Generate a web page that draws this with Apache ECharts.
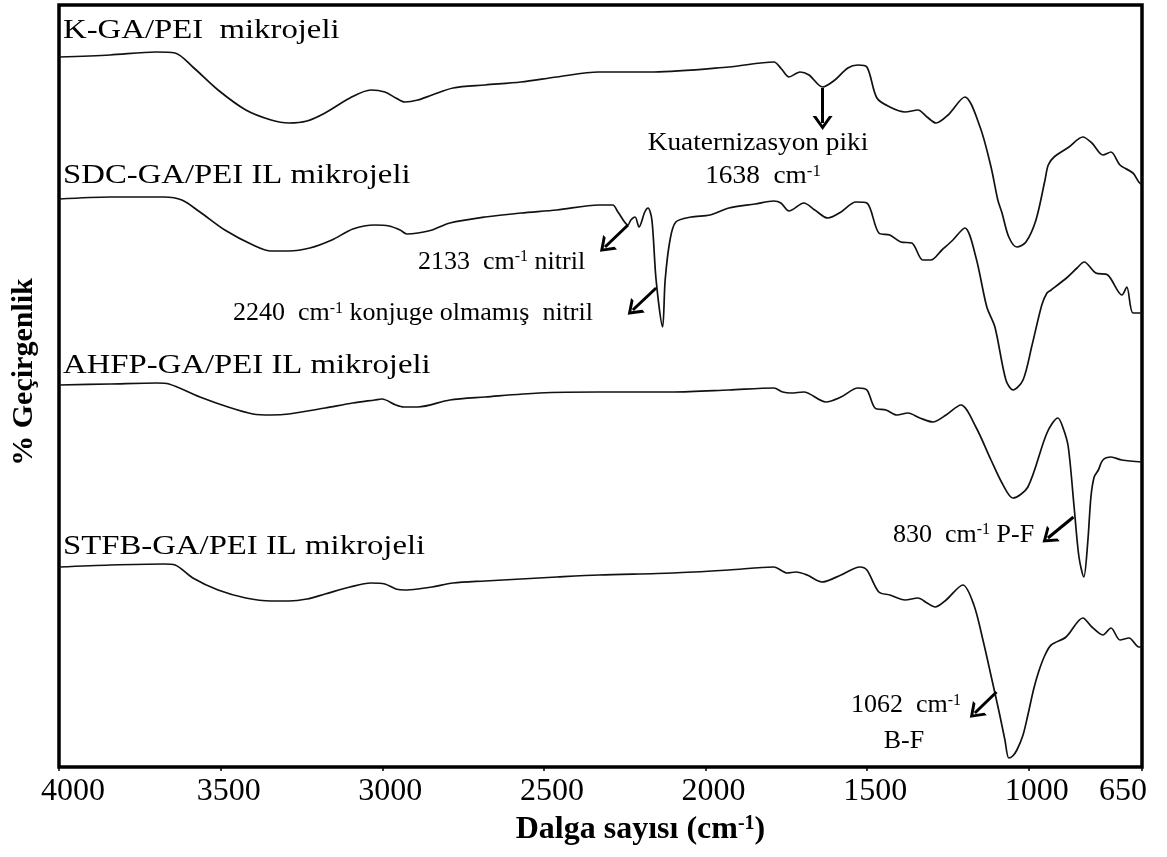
<!DOCTYPE html>
<html>
<head>
<meta charset="utf-8">
<script src="https://cdn.jsdelivr.net/npm/echarts@6.0.0/dist/echarts.min.js"></script>
<style>
  html, body { margin: 0; padding: 0; background: #fff; }
  #chart { width: 1167px; height: 857px; }
</style>
</head>
<body>
<div id="chart"></div>
<script>
// Wavenumber ticks (cm-1)
const tickValues = [4000, 3500, 3000, 2500, 2000, 1500, 1000, 650];

// FTIR spectra, [wavenumber, offset transmittance (a.u.)]
const kgaPei = [
  [4000,355],[3842,356],[3700,357.5],[3641,357],[3586,350],[3508,338.5],[3422,328.5],[3344,323.5],
  [3289,322],[3233,323],[3177,327],[3100,334.5],[3035,338.5],[2992,337.5],[2958,334.5],[2930,332.5],
  [2890,333.5],[2846,336],[2781,339.5],[2682,341],[2571,342.5],[2460,345],[2330,347.5],[2160,347.5],
  [1928,350],[1789,352.5],[1765,349],[1742,345],[1708,347.5],[1680,346],[1638,340],[1600,343.5],
  [1560,349.5],[1529,351],[1501,350],[1470,334.5],[1430,330],[1383,327.5],[1343,328.5],[1315,325],
  [1287,322],[1250,326],[1198,335],[1151,320],[1117,300],[1096,283.5],[1083,277],[1062,265],
  [1037,260],[1009,262.5],[978,273.5],[950,293.5],[940,301],[922,305],[876,310],[833,315],
  [805,312],[771,306],[746,307.5],[718,301],[678,297],[660,292.5],[650,291]
];

const sdcPei = [
  [4000,284],[3842,285],[3675,285],[3620,283.5],[3564,277.5],[3487,268.5],[3400,261],[3344,258],
  [3289,258],[3224,259.5],[3156,263.5],[3091,269],[3023,271],[2979,270.5],[2945,268.5],[2924,266.5],
  [2890,267],[2846,268.5],[2791,272],[2682,275],[2571,277],[2460,278.5],[2330,281],[2287,281],
  [2271,277.5],[2240,271],[2231,273.5],[2218,275],[2206,270],[2188,277.5],[2178,279.5],[2166,273.5],
  [2153,243.5],[2133,220],[2125,243.5],[2110,263.5],[2092,272.5],[2045,275],[1986,276],[1928,279.5],
  [1847,281.5],[1789,283],[1767,282],[1742,278],[1696,282],[1662,278.5],[1622,274.5],[1581,277.5],
  [1535,282.5],[1501,282],[1464,267],[1430,266],[1396,262.5],[1362,262],[1328,253.5],[1303,253.5],
  [1269,258.5],[1235,263.5],[1198,269.5],[1164,255],[1130,230],[1105,220],[1071,193.5],[1049,188.5],
  [1018,193.5],[990,211],[960,231],[944,237],[931,238.5],[880,245],[851,249.5],[829,252.5],
  [793,247],[756,246],[712,236],[697,240],[678,227],[650,227]
];

const ahfpPei = [
  [4000,191],[3842,191.5],[3697,192],[3660,191.5],[3564,185],[3477,180],[3400,176.5],[3344,176],
  [3289,176.5],[3177,179.5],[3091,182],[3023,183.5],[3001,184],[2958,181],[2933,180],[2890,180],
  [2791,183.5],[2682,185],[2515,187],[2330,187.5],[2100,187.5],[1928,188.5],[1789,189.5],[1761,187.5],
  [1736,187],[1696,187.5],[1628,182.5],[1581,185],[1529,189.5],[1501,188.5],[1476,179.5],[1442,178.5],
  [1408,176],[1374,177],[1337,174.5],[1297,172.5],[1256,176],[1210,181],[1164,170],[1117,153.5],
  [1083,142],[1049,134.5],[1003,140],[944,167],[910,174.5],[893,169],[878,160],[860,130],
  [845,105],[830,95],[818,112],[808,135],[798,145],[785,148.5],[771,153.5],[746,155],
  [712,153.5],[650,152.5]
];

const stfbPei = [
  [4000,100],[3842,101],[3675,101.5],[3641,101],[3586,94.5],[3508,88.5],[3422,84.5],[3344,83],
  [3289,83],[3233,84],[3177,86.5],[3100,90],[3035,92],[2992,91.5],[2958,89],[2930,88.5],
  [2890,89],[2846,90],[2781,92],[2682,93],[2571,94],[2460,95],[2330,96],[2100,97],
  [1928,98.5],[1789,100],[1748,97],[1720,97.5],[1686,96],[1640,92.5],[1581,96],[1523,100],
  [1501,98.5],[1464,87.5],[1430,86],[1383,83.5],[1343,84.5],[1315,82],[1290,80],[1256,83.5],
  [1204,91],[1170,81],[1142,63.5],[1114,43.5],[1090,26],[1074,13.5],[1062,4.5],[1050,5.5],
  [1037,8.5],[1018,16],[1003,26],[985,39],[969,48],[950,56],[931,61],[885,65],
  [833,74.5],[805,70],[771,66],[746,69.5],[718,63.5],[690,64.5],[660,60],[650,60]
];

// Annotation arrows: [from, to] in [wavenumber, a.u.]
const arrowPairs = [
  [[1638, 339.5], [1638, 322]],
  [[2240, 271], [2311, 260]],
  [[2153, 239.5], [2225, 228.5]],
  [[862, 125], [941, 114.5]],
  [[1100, 37.5], [1167, 27]]
];

const serif = '"Liberation Serif", "Times New Roman", serif';
const chevron = 'path://M0,14 L10,0 L20,14 L16.4,14 L10,5 L3.6,14 Z';

function spectrum(name, data, extra) {
  return Object.assign({
    name: name,
    type: 'line',
    data: data,
    showSymbol: false,
    smooth: 0.3,
    silent: true,
    lineStyle: { color: '#111', width: 1.7 },
    animation: false
  }, extra || {});
}

function label(x, y, text, size, align, scaleX) {
  return {
    type: 'text',
    x: x, y: y,
    scaleX: scaleX || 1,
    silent: true,
    style: {
      text: text,
      font: size + 'px ' + serif,
      fill: '#000',
      align: align, textAlign: align,
      verticalAlign: 'middle', textVerticalAlign: 'middle',
      rich: {
        s: { fontSize: Math.round(size * 0.6), fontFamily: serif, fill: '#000', verticalAlign: 'top' }
      }
    }
  };
}

const chart = echarts.init(document.getElementById('chart'), null, { renderer: 'canvas' });

chart.setOption({
  animation: false,
  backgroundColor: '#fff',
  grid: {
    left: 59, right: 25, top: 5, bottom: 90,
    show: true, borderColor: '#000', borderWidth: 3.5, backgroundColor: 'transparent'
  },
  xAxis: {
    type: 'value',
    inverse: true,
    min: 650, max: 4000,
    splitLine: { show: false },
    axisLine: { show: false },
    axisTick: {
      show: true, inside: false, length: 4,
      customValues: tickValues,
      lineStyle: { color: '#000', width: 1.5 }
    },
    axisLabel: {
      customValues: tickValues,
      margin: 9,
      color: '#000',
      fontFamily: serif,
      fontSize: 32,
      formatter: function (v) {
        if (v === 650) return '{e|650}';
        if (v === 4000) return '{f|4000}';
        return '{n|' + v + '}';
      },
      rich: {
        e: { fontFamily: serif, fontSize: 32, color: '#000', padding: [0, 38, 0, 0] },
        f: { fontFamily: serif, fontSize: 32, color: '#000', padding: [0, 0, 0, 28] },
        n: { fontFamily: serif, fontSize: 32, color: '#000', padding: [0, 0, 0, 16] }
      }
    },
    name: '{b|Dalga sayısı (cm}{sup|-1}{b|)}',
    nameLocation: 'middle',
    nameGap: 47,
    nameTextStyle: {
      padding: [0, 0, 0, 80],
      rich: {
        b: { fontFamily: serif, fontSize: 32, fontWeight: 'bold', color: '#000', verticalAlign: 'bottom' },
        sup: { fontFamily: serif, fontSize: 20, fontWeight: 'bold', color: '#000', verticalAlign: 'top' }
      }
    }
  },
  yAxis: {
    type: 'value',
    min: 0, max: 381,
    axisLine: { show: false },
    axisTick: { show: false },
    axisLabel: { show: false },
    splitLine: { show: false },
    name: '% Geçirgenlik',
    nameLocation: 'middle',
    nameGap: 20,
    nameTextStyle: {
      fontFamily: serif, fontSize: 30, fontWeight: 'bold', color: '#000',
      padding: [0, 0, 0, 28]
    }
  },
  series: [
    spectrum('K-GA/PEI mikrojeli', kgaPei),
    spectrum('SDC-GA/PEI IL mikrojeli', sdcPei),
    spectrum('AHFP-GA/PEI IL mikrojeli', ahfpPei),
    spectrum('STFB-GA/PEI IL mikrojeli', stfbPei, {
      markLine: {
        silent: true,
        animation: false,
        symbol: ['none', chevron],
        symbolSize: [20, 14],
        label: { show: false },
        emphasis: { disabled: true },
        lineStyle: { color: '#000', width: 3, type: 'solid' },
        data: arrowPairs.map(function (p) {
          return [{ coord: p[0] }, { coord: p[1] }];
        })
      }
    })
  ],
  graphic: [
    label(63, 31, 'K-GA/PEI  mikrojeli', 28, 'left', 1.17),
    label(63, 176, 'SDC-GA/PEI IL mikrojeli', 28, 'left', 1.17),
    label(63, 366, 'AHFP-GA/PEI IL mikrojeli', 28, 'left', 1.17),
    label(63, 547, 'STFB-GA/PEI IL mikrojeli', 28, 'left', 1.17),
    label(758, 143.5, 'Kuaternizasyon piki', 26, 'center', 1.05),
    label(763, 176.5, '1638  cm{s|-1}', 26, 'center', 1.05),
    label(418, 262, '2133  cm{s|-1} nitril', 26, 'left', 1),
    label(233, 313.5, '2240  cm{s|-1} konjuge olmamış  nitril', 26, 'left', 1),
    label(893, 535, '830  cm{s|-1} P-F', 26, 'left', 1),
    label(851, 705.5, '1062  cm{s|-1}', 26, 'left', 1),
    label(904, 741, 'B-F', 26, 'center', 1)
  ]
});
</script>
</body>
</html>
